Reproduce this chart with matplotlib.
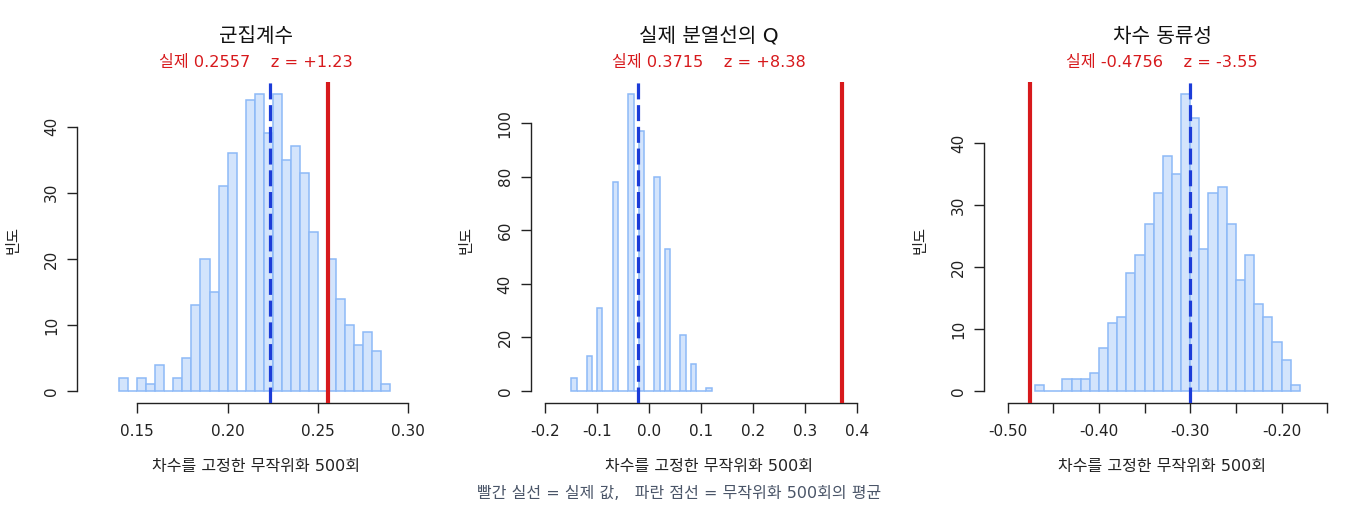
import numpy as np
import matplotlib
matplotlib.use("Agg")
import matplotlib.pyplot as plt

plt.rcParams['font.family'] = ['DejaVu Sans', 'Noto Sans CJK KR']

# ---------------------- Data ----------------------
titles = ["군집계수", "실제 분열선의 Q", "차수 동류성"]
observed = [0.2557, 0.3715, -0.4756]
z_scores = [1.23, 8.38, -3.55]
null_means = [0.2237, -0.0212, -0.3004]

# bin edges (first edge, bin width) and counts of 500 randomisations
clust_start, clust_width = 0.140, 0.005
clust_counts = [2, 0, 2, 1, 4, 0, 2, 5, 13, 20, 15, 31, 36, 0, 44,
                45, 39, 45, 35, 37, 33, 24, 0, 20, 14, 10, 7, 9, 6, 1]

q_start, q_width = -0.15, 0.01
q_counts = [5, 0, 0, 13, 0, 31, 0, 0, 78, 0, 0, 111, 0, 97, 0, 0,
            80, 0, 53, 0, 0, 21, 0, 10, 0, 0, 1]

assort_start, assort_width = -0.47, 0.01
assort_counts = [1, 0, 0, 2, 2, 2, 3, 7, 11, 12, 19, 22, 27, 32, 38,
                 35, 48, 44, 23, 32, 33, 27, 18, 22, 14, 12, 8, 5, 1]

starts = [clust_start, q_start, assort_start]
widths = [clust_width, q_width, assort_width]
counts = [clust_counts, q_counts, assort_counts]

xlims = [(0.1168, 0.3141), (-0.2283, 0.4573), (-0.526, -0.1356)]
xticks = [[0.15, 0.20, 0.25, 0.30],
          [-0.2, -0.1, 0.0, 0.1, 0.2, 0.3, 0.4],
          [-0.50, -0.45, -0.40, -0.35, -0.30, -0.25, -0.20, -0.15]]
xticklabels = [["0.15", "0.20", "0.25", "0.30"],
               ["-0.2", "-0.1", "0.0", "0.1", "0.2", "0.3", "0.4"],
               ["-0.50", "", "-0.40", "", "-0.30", "", "-0.20", ""]]
yticks = [[0, 10, 20, 30, 40],
          [0, 20, 40, 60, 80, 100],
          [0, 10, 20, 30, 40]]

RED = "#d7191c"
BLUE = "#1c3cd8"
FILL = "#d3e4fc"
EDGE = "#8db9f7"

W, H = 1360, 520
fig = plt.figure(figsize=(W / 100, H / 100), dpi=100)


def fy(px):
    return 1 - px / H


for i in range(3):
    left_px = 77.3 + 453.3 * i
    ax = fig.add_axes([left_px / W, fy(403), 356.4 / W, 321.3 / H])

    c = np.array(counts[i])
    edges = starts[i] + widths[i] * np.arange(len(c) + 1)
    ax.bar(edges[:-1], c, width=widths[i], align="edge",
           color=FILL, edgecolor=EDGE, linewidth=1.1, zorder=2)

    ax.axvline(null_means[i], color=BLUE, lw=2.3, ls=(0, (5, 1.8)), zorder=3)
    ax.axvline(observed[i], color=RED, lw=3.0, zorder=4)

    ymax = c.max()
    ax.set_xlim(*xlims[i])
    ax.set_ylim(-0.04 * ymax, 1.04 * ymax)

    for s in ["top", "right"]:
        ax.spines[s].set_visible(False)
    ax.spines["bottom"].set_bounds(xticks[i][0], xticks[i][-1])
    ax.spines["left"].set_bounds(yticks[i][0], yticks[i][-1])
    for s in ["bottom", "left"]:
        ax.spines[s].set_linewidth(1.0)
        ax.spines[s].set_color("#222222")

    ax.set_xticks(xticks[i])
    ax.set_xticklabels(xticklabels[i])
    ax.set_yticks(yticks[i])
    ax.set_yticklabels([str(v) for v in yticks[i]], rotation=90, va="center")
    ax.tick_params(axis="both", direction="out", length=7, width=1.0,
                   colors="#222222", labelsize=11, pad=8)
    ax.tick_params(axis="y", pad=6)

    cx = (left_px + 356.4 / 2) / W
    fig.text(cx, fy(37), titles[i], ha="center", va="center",
             fontsize=14.5, color="#111111")
    sub = f"실제 {observed[i]:.4f}    z = {z_scores[i]:+.2f}"
    fig.text(cx, fy(63), sub, ha="center", va="center",
             fontsize=11.6, color=RED)
    fig.text(cx, fy(467), "차수를 고정한 무작위화 500회", ha="center",
             va="center", fontsize=11.5, color="#222222")
    fig.text((13 + 453.3 * i) / W, fy(240), "빈도", ha="center", va="center",
             rotation=90, fontsize=11, color="#222222")

fig.text(679 / W, fy(494), "빨간 실선 = 실제 값,   파란 점선 = 무작위화 500회의 평균",
         ha="center", va="center", fontsize=11.5, color="#4a5568")

fig.savefig("out.png", dpi=100)
